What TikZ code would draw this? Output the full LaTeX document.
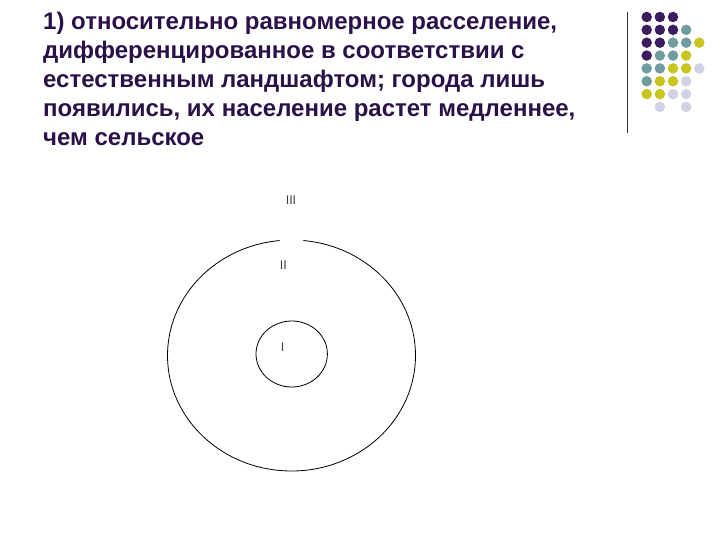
\documentclass[tikz,border=0pt]{standalone}
\usepackage{fontspec}
\setmainfont{Liberation Sans}
\definecolor{txt}{HTML}{2A1248}
\definecolor{dP}{HTML}{3B1C5E}
\definecolor{dT}{HTML}{6F9C9E}
\definecolor{dY}{HTML}{C9C51F}
\definecolor{dL}{HTML}{D2D2E6}
\begin{document}
\begin{tikzpicture}[x=1pt,y=-1pt,
  line/.style={font=\fontsize{24}{28}\selectfont\bfseries, text=txt, anchor=base west, inner sep=0pt},
  lbl/.style={font=\fontsize{12.5}{14}\selectfont, text=black!75, inner sep=0pt},
  ring/.style={draw=black, line width=0.8pt},
  dot/.style={circle, inner sep=0pt, minimum size=10.5pt}]
\useasboundingbox (0,0) rectangle (720,540);
% title
\node[line] (t1) at (43,30) {1) относительно равномерное расселение,};
\node[line] (t2) at (43,59) {дифференцированное в соответствии с};
\node[line] (t3) at (43,88) {естественным ландшафтом; города лишь};
\node[line] (t4) at (43,117) {появились, их население растет медленнее,};
\node[line] (t5) at (43,146) {чем сельское};
% decoration
\coordinate (vt) at (627.5,12);
\coordinate (vb) at (627.5,133);
\draw[black!80, line width=1pt] (vt) -- (vb);
\foreach \r/\i/\k in {0/0/P,0/1/P,0/2/P,
  1/0/P,1/1/P,1/2/P,1/3/T,
  2/0/P,2/1/P,2/2/T,2/3/T,2/4/Y,
  3/0/P,3/1/T,3/2/T,3/3/Y,
  4/0/T,4/1/T,4/2/Y,4/3/Y,4/4/L,
  5/0/T,5/1/Y,5/2/Y,5/3/L,
  6/0/Y,6/1/Y,6/2/L,6/3/L,
  7/1/L,7/3/L}{
  \node[dot, fill=d\k] (d\r\i) at ({646.7+13.15*\i},{17+12.85*\r}) {};
}
% diagram
\coordinate (O) at (291.5,355.5);
\draw[ring] (O) ++(-84.5:124 and 115.5) arc[start angle=-84.5, end angle=264.5, x radius=124, y radius=115.5];
\draw[ring] (291.7,354) ellipse[x radius=35.7, y radius=33];
\node[lbl] (l3) at (291,200) {III};
\node[lbl] (l2) at (283.3,265) {II};
\node[lbl] (l1) at (282.7,347) {I};
\end{tikzpicture}
\end{document}
